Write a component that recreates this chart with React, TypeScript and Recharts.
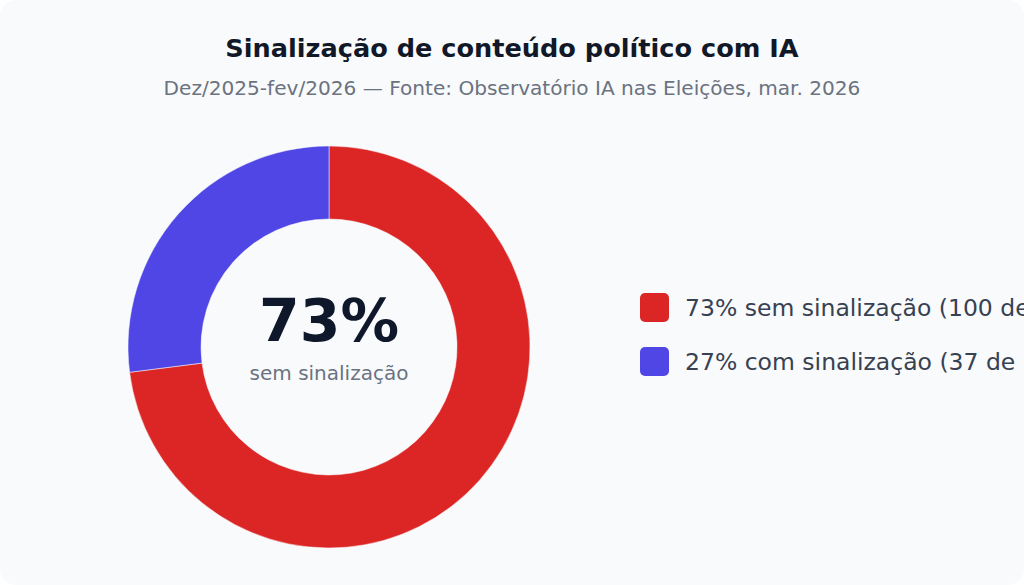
import React from 'react';
import { PieChart, Pie, Cell, Legend, Label } from 'recharts';

const categories = ['sem sinalização', 'com sinalização'];
const counts = [100, 37];
const percents = [73, 27];
const colors = ['#dc2626', '#4f46e5'];
const total = 137;

const data = categories.map((name, i) => ({
  name,
  value: counts[i],
  pct: percents[i],
  color: colors[i],
}));

const FONT = '"DejaVu Sans", Verdana, sans-serif';
const CX = 329;
const CY = 347;

function CenterLabel() {
  return (
    <g>
      <text
        x={CX}
        y={CY - 6}
        textAnchor="middle"
        fontSize={58.5}
        fontWeight={700}
        fill="#0f172a"
        fontFamily={FONT}
      >
        {`${percents[0]}%`}
      </text>
      <text
        x={CX}
        y={CY + 33}
        textAnchor="middle"
        fontSize={20}
        fill="#6b7280"
        fontFamily={FONT}
      >
        {categories[0]}
      </text>
    </g>
  );
}

function LegendList() {
  return (
    <div style={{ fontFamily: FONT }}>
      {data.map((d) => (
        <div
          key={d.name}
          style={{
            display: 'flex',
            alignItems: 'center',
            height: 29,
            marginBottom: 25,
            whiteSpace: 'nowrap',
          }}
        >
          <span
            style={{
              width: 29,
              height: 29,
              borderRadius: 5,
              background: d.color,
              marginRight: 16,
              flex: 'none',
            }}
          />
          <span style={{ fontSize: 23.5, color: '#374151' }}>
            {`${d.pct}% ${d.name} (${d.value} de ${total})`}
          </span>
        </div>
      ))}
    </div>
  );
}

export default function App() {
  return (
    <div
      style={{
        position: 'relative',
        width: 1024,
        height: 585,
        background: '#f8fafc',
        borderRadius: 16,
        overflow: 'hidden',
        fontFamily: FONT,
      }}
    >
      <style>{'body{margin:0;background:#fff}'}</style>
      <div
        style={{
          position: 'absolute',
          top: 31,
          left: 0,
          width: 1024,
          textAlign: 'center',
          fontSize: 25.6,
          fontWeight: 700,
          color: '#111827',
          lineHeight: '34px',
        }}
      >
        Sinalização de conteúdo político com IA
      </div>
      <div
        style={{
          position: 'absolute',
          top: 74,
          left: 0,
          width: 1024,
          textAlign: 'center',
          fontSize: 20.1,
          color: '#6b7280',
          lineHeight: '28px',
        }}
      >
        Dez/2025-fev/2026 — Fonte: Observatório IA nas Eleições, mar. 2026
      </div>
      <div style={{ position: 'absolute', top: 0, left: 0 }}>
        <PieChart width={1024} height={585} margin={{ top: 0, right: 0, bottom: 0, left: 0 }}>
          <Pie
            data={data}
            dataKey="value"
            nameKey="name"
            cx={CX}
            cy={CY}
            innerRadius={128}
            outerRadius={201}
            startAngle={90}
            endAngle={-270}
            stroke="#f8fafc"
            strokeWidth={0.5}
            isAnimationActive={false}
          >
            {data.map((d) => (
              <Cell key={d.name} fill={d.color} />
            ))}
            <Label position="center" content={() => <CenterLabel />} />
          </Pie>
          <Legend
            layout="vertical"
            align="right"
            verticalAlign="middle"
            content={() => <LegendList />}
            wrapperStyle={{ left: 640, top: 293, width: 500 }}
          />
        </PieChart>
      </div>
    </div>
  );
}
